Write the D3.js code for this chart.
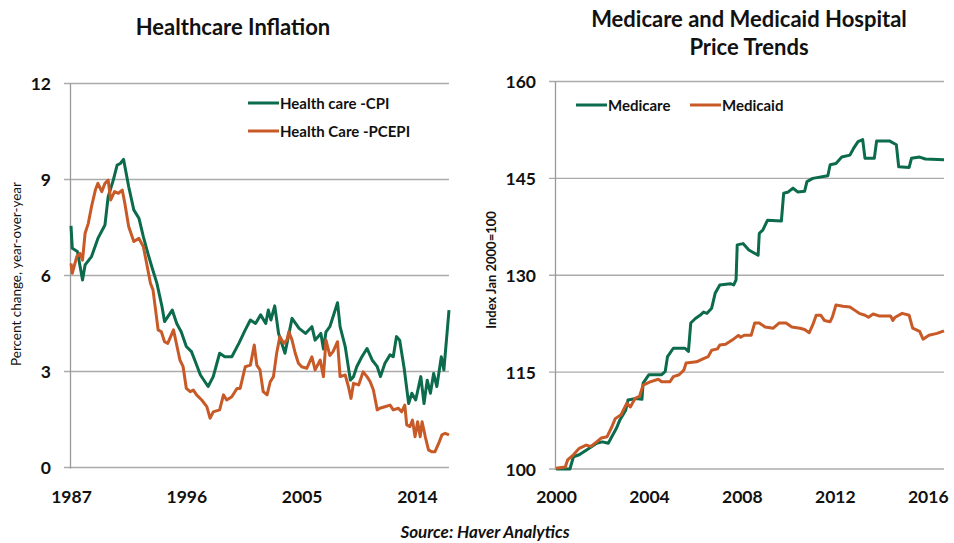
<!DOCTYPE html>
<html>
<head>
<meta charset="utf-8">
<script src="https://cdn.jsdelivr.net/npm/d3@7"></script>
<style>
  body { margin: 0; background: #fff; }
  svg { display: block; font-family: Lato, "Open Sans", sans-serif; }
</style>
</head>
<body>
<svg id="chart" width="954" height="543"></svg>
<script>
// ---- left panel data: healthcare inflation, % y/y ----
var cpiYears = [1987.0, 1987.1, 1987.5, 1987.9, 1988.1, 1988.6, 1989.1, 1989.65, 1989.9, 1990.3, 1990.6, 1990.85, 1991.1, 1991.5, 1991.9, 1992.3, 1992.65, 1993.0, 1993.3, 1993.7, 1994.1, 1994.3, 1994.9, 1995.25, 1995.6, 1996.0, 1996.4, 1996.7, 1997.1, 1997.7, 1998.1, 1998.6, 1999.0, 1999.55, 2000.1, 2000.6, 2001.0, 2001.4, 2001.8, 2002.2, 2002.4, 2002.6, 2002.9, 2003.2, 2003.7, 2004.25, 2004.8, 2005.3, 2005.8, 2006.05, 2006.5, 2006.7, 2006.9, 2007.2, 2007.45, 2007.8, 2008.0, 2008.4, 2008.8, 2009.05, 2009.3, 2009.7, 2010.1, 2010.5, 2010.9, 2011.15, 2011.5, 2011.9, 2012.15, 2012.4, 2012.65, 2013.0, 2013.35, 2013.6, 2013.9, 2014.3, 2014.55, 2014.8, 2015.05, 2015.3, 2015.55, 2015.9, 2016.1, 2016.3, 2016.5];
var cpiValues = [7.55, 6.85, 6.75, 5.86, 6.33, 6.59, 7.16, 7.58, 8.46, 8.98, 9.45, 9.5, 9.63, 8.78, 8.05, 7.79, 7.21, 6.69, 6.28, 5.76, 5.03, 4.56, 4.92, 4.5, 4.24, 3.78, 3.62, 3.31, 2.89, 2.53, 2.84, 3.57, 3.46, 3.46, 3.88, 4.3, 4.61, 4.5, 4.77, 4.5, 4.92, 4.61, 5.05, 4.19, 3.57, 4.66, 4.35, 4.19, 4.4, 3.98, 4.19, 3.7, 4.24, 4.4, 4.71, 5.15, 4.4, 3.78, 2.73, 2.84, 3.15, 3.46, 3.72, 3.36, 3.15, 2.84, 3.26, 3.52, 3.46, 4.09, 3.98, 3.1, 2.0, 2.32, 2.11, 2.84, 2.0, 2.73, 2.32, 2.94, 2.53, 3.46, 3.05, 3.98, 4.92];

var pceYears = [1987.0, 1987.1, 1987.45, 1987.7, 1987.9, 1988.1, 1988.35, 1988.6, 1988.9, 1989.1, 1989.4, 1989.65, 1989.9, 1990.1, 1990.4, 1990.7, 1991.0, 1991.2, 1991.5, 1991.9, 1992.3, 1992.65, 1992.9, 1993.2, 1993.4, 1993.8, 1994.05, 1994.3, 1994.55, 1995.0, 1995.25, 1995.5, 1995.75, 1996.0, 1996.3, 1996.55, 1996.8, 1997.2, 1997.6, 1997.85, 1998.1, 1998.6, 1998.9, 1999.15, 1999.55, 1999.95, 2000.2, 2000.6, 2001.0, 2001.3, 2001.5, 2001.75, 2002.0, 2002.3, 2002.55, 2002.8, 2003.05, 2003.3, 2003.6, 2003.85, 2004.0, 2004.25, 2004.5, 2004.75, 2005.0, 2005.4, 2005.8, 2006.05, 2006.45, 2006.7, 2006.9, 2007.2, 2007.45, 2007.8, 2008.0, 2008.4, 2008.65, 2008.85, 2009.05, 2009.45, 2009.8, 2010.1, 2010.35, 2010.6, 2010.9, 2011.1, 2011.5, 2011.9, 2012.15, 2012.55, 2012.8, 2013.05, 2013.2, 2013.45, 2013.65, 2013.85, 2014.05, 2014.25, 2014.4, 2014.65, 2014.9, 2015.15, 2015.4, 2015.7, 2015.95, 2016.2, 2016.5];
var pceValues = [6.38, 6.07, 6.59, 6.69, 6.48, 7.32, 7.63, 8.15, 8.67, 8.88, 8.62, 8.88, 8.98, 8.36, 8.62, 8.57, 8.67, 8.26, 7.53, 7.06, 7.16, 6.9, 6.38, 5.76, 5.55, 4.3, 4.24, 3.93, 3.88, 4.3, 3.83, 3.36, 3.15, 2.47, 2.37, 2.42, 2.27, 2.11, 1.9, 1.54, 1.74, 1.8, 2.27, 2.11, 2.21, 2.47, 2.47, 3.15, 3.2, 3.83, 3.2, 3.05, 2.37, 2.27, 2.68, 2.84, 3.57, 4.09, 3.88, 3.98, 4.24, 3.98, 3.57, 3.26, 3.15, 3.1, 3.46, 3.05, 3.36, 2.84, 3.98, 3.5, 3.62, 3.93, 2.84, 2.89, 2.53, 2.16, 2.63, 2.58, 2.99, 2.84, 2.68, 2.42, 1.8, 1.85, 1.9, 1.95, 1.8, 1.85, 1.74, 1.95, 1.33, 1.28, 1.48, 0.96, 1.43, 0.96, 1.43, 0.96, 0.55, 0.49, 0.49, 0.76, 1.02, 1.07, 1.02];

var leftYTicks = [0, 3, 6, 9, 12];
var leftXTicks = [1987, 1996, 2005, 2014];
var leftSeriesNames = ["Health care -CPI", "Health Care -PCEPI"];

// ---- right panel data: hospital price index, Jan 2000 = 100 ----
var medicareYears = [2000.0, 2000.6, 2000.75, 2001.0, 2001.3, 2001.75, 2002.0, 2002.25, 2002.4, 2002.6, 2002.75, 2003.0, 2003.1, 2003.45, 2003.7, 2003.75, 2004.0, 2004.55, 2004.7, 2004.8, 2005.05, 2005.55, 2005.7, 2005.8, 2006.0, 2006.2, 2006.35, 2006.5, 2006.7, 2006.85, 2007.05, 2007.5, 2007.65, 2007.75, 2007.8, 2008.05, 2008.3, 2008.7, 2008.75, 2008.9, 2009.1, 2009.7, 2009.8, 2010.0, 2010.2, 2010.4, 2010.7, 2010.8, 2011.05, 2011.7, 2011.8, 2012.05, 2012.3, 2012.65, 2012.8, 2013.0, 2013.2, 2013.3, 2013.7, 2013.8, 2014.35, 2014.65, 2014.75, 2015.2, 2015.3, 2015.65, 2015.9, 2016.7];
var medicareValues = [100, 100, 101.9, 102.2, 102.9, 104.0, 104.2, 104.0, 105.0, 106.3, 107.6, 109.1, 110.7, 110.9, 110.8, 113.3, 114.6, 114.6, 115.1, 117.4, 118.7, 118.7, 118.2, 122.6, 123.3, 123.8, 124.3, 124.1, 124.9, 127.2, 128.5, 128.7, 128.5, 129.3, 134.7, 134.9, 133.9, 133.1, 136.5, 137.0, 138.5, 138.4, 142.7, 142.9, 143.5, 142.9, 143.0, 144.5, 145.0, 145.4, 147.1, 147.3, 148.3, 148.6, 149.6, 150.7, 151.0, 148.1, 148.1, 150.8, 150.8, 150.2, 146.8, 146.7, 148.1, 148.3, 148.0, 147.9];

var medicaidYears = [2000.0, 2000.4, 2000.5, 2000.75, 2001.0, 2001.3, 2001.5, 2001.75, 2001.95, 2002.2, 2002.4, 2002.55, 2002.8, 2003.05, 2003.2, 2003.4, 2003.6, 2003.75, 2004.05, 2004.4, 2004.55, 2004.9, 2005.05, 2005.3, 2005.5, 2005.6, 2006.05, 2006.35, 2006.55, 2006.7, 2006.95, 2007.05, 2007.3, 2007.6, 2007.85, 2007.95, 2008.1, 2008.4, 2008.55, 2008.75, 2009.0, 2009.35, 2009.6, 2009.9, 2010.15, 2010.5, 2010.7, 2010.9, 2011.05, 2011.2, 2011.4, 2011.55, 2011.8, 2011.9, 2012.05, 2012.35, 2012.65, 2012.85, 2013.05, 2013.3, 2013.45, 2013.65, 2013.9, 2014.4, 2014.5, 2014.6, 2014.9, 2015.2, 2015.35, 2015.65, 2015.8, 2016.05, 2016.4, 2016.7];
var medicaidValues = [100.1, 100.3, 101.4, 102.2, 103.2, 103.7, 103.5, 104.2, 104.8, 105.0, 106.5, 107.8, 108.4, 110.2, 109.6, 110.9, 111.3, 113.0, 113.5, 113.9, 113.5, 113.5, 114.3, 114.6, 115.3, 116.4, 116.6, 117.1, 117.4, 118.4, 118.6, 119.2, 119.3, 120.0, 120.7, 120.4, 120.7, 120.7, 122.6, 122.6, 122.0, 121.8, 122.6, 122.6, 122.0, 121.8, 121.6, 121.1, 122.3, 123.8, 123.8, 123.0, 122.8, 123.6, 125.4, 125.2, 125.1, 124.6, 124.1, 123.8, 123.5, 124.0, 123.7, 123.7, 123.0, 123.5, 124.1, 123.8, 121.8, 121.3, 120.1, 120.7, 121.0, 121.4];

var rightYTicks = [100, 115, 130, 145, 160];
var rightXTicks = [2000, 2004, 2008, 2012, 2016];
var rightSeriesNames = ["Medicare", "Medicaid"];

var green = "#0b6b4c";
var orange = "#c85a27";
var gridColor = "#ababab";

var svg = d3.select("#chart");

function drawPanel(opts) {
  var g = svg.append("g");
  var x = d3.scaleLinear().domain(opts.xDomain).range(opts.xRange);
  var y = d3.scaleLinear().domain(opts.yDomain).range(opts.yRange);

  // horizontal gridlines (they poke out left of the axis as ticks)
  g.selectAll("line.grid")
    .data(opts.yTicks)
    .enter().append("line")
      .attr("class", "grid")
      .attr("x1", opts.xRange[0] - 7)
      .attr("x2", opts.gridEnd)
      .attr("y1", function(d) { return y(d); })
      .attr("y2", function(d) { return y(d); })
      .style("stroke", gridColor)
      .style("stroke-width", 1.3);

  // y axis line
  g.append("line")
    .attr("x1", opts.xRange[0] - 0.5).attr("x2", opts.xRange[0] - 0.5)
    .attr("y1", y(opts.yDomain[1])).attr("y2", y(opts.yDomain[0]) + 1)
    .style("stroke", "#999")
    .style("stroke-width", 1.3);

  // y tick labels
  var leftAxis = d3.axisLeft(y).tickValues(opts.yTicks).tickSize(0).tickPadding(0);
  var ya = g.append("g")
    .attr("transform", "translate(" + opts.yLabelX + ",0)")
    .call(leftAxis);
  ya.select(".domain").remove();
  ya.selectAll("text")
    .attr("dy", "0.36em")
    .style("font-family", "Lato, sans-serif")
    .style("font-size", "17.5px")
    .style("font-weight", "bold")
    .style("fill", "#111");

  // x tick labels
  var bottomAxis = d3.axisBottom(x).tickValues(opts.xTicks).tickFormat(d3.format("d")).tickSize(0).tickPadding(0);
  var xa = g.append("g")
    .attr("transform", "translate(0," + opts.xLabelY + ")")
    .call(bottomAxis);
  xa.select(".domain").remove();
  xa.selectAll("text")
    .attr("dy", "0")
    .style("font-family", "Lato, sans-serif")
    .style("font-size", "17.5px")
    .style("font-weight", "bold")
    .style("fill", "#111");

  // series lines
  var line = d3.line()
    .x(function(d) { return x(d[0]); })
    .y(function(d) { return y(d[1]); });

  opts.series.forEach(function(s) {
    var pts = d3.zip(s.years, s.values);
    g.append("path")
      .datum(pts)
      .attr("d", line)
      .style("fill", "none")
      .style("stroke", s.color)
      .style("stroke-width", 3)
      .style("stroke-linejoin", "round");
  });

  // legend
  opts.legend.forEach(function(l) {
    g.append("line")
      .attr("x1", l.x).attr("x2", l.x + 31)
      .attr("y1", l.y).attr("y2", l.y)
      .style("stroke", l.color)
      .style("stroke-width", 3);
    g.append("text")
      .attr("x", l.x + 32)
      .attr("y", l.y + 5.5)
      .style("font-size", "15px")
      .style("font-weight", "bold")
      .style("fill", "#111")
      .text(l.name);
  });

  // titles
  opts.title.forEach(function(t, i) {
    g.append("text")
      .attr("x", opts.titleX)
      .attr("y", opts.titleY + i * 28)
      .attr("text-anchor", "middle")
      .style("font-size", "22px")
      .style("font-weight", "bold")
      .style("fill", "#111")
      .text(t);
  });

  g.append("text")
    .attr("transform", "translate(" + opts.yTitleX + "," + opts.yTitleY + ") rotate(-90)")
    .attr("text-anchor", "middle")
    .style("font-size", opts.yTitleSize)
    .style("font-weight", opts.yTitleWeight)
    .style("fill", "#111")
    .text(opts.yTitle);
}

drawPanel({
  xDomain: [1987, 2016.5], xRange: [71, 449],
  yDomain: [0, 12], yRange: [467.5, 83.5],
  yTicks: leftYTicks, xTicks: leftXTicks,
  gridEnd: 449, yLabelX: 51, xLabelY: 503,
  series: [
    { years: cpiYears, values: cpiValues, color: green },
    { years: pceYears, values: pceValues, color: orange }
  ],
  legend: [
    { x: 248, y: 103, color: green, name: leftSeriesNames[0] },
    { x: 248, y: 131, color: orange, name: leftSeriesNames[1] }
  ],
  title: ["Healthcare Inflation"], titleX: 233, titleY: 35,
  yTitle: "Percent change, year-over-year", yTitleX: 21, yTitleY: 274,
  yTitleSize: "13.5px", yTitleWeight: "normal"
});

drawPanel({
  xDomain: [2000, 2016.7], xRange: [556, 944],
  yDomain: [100, 160], yRange: [469, 81.5],
  yTicks: rightYTicks, xTicks: rightXTicks,
  gridEnd: 944, yLabelX: 536, xLabelY: 503,
  series: [
    { years: medicareYears, values: medicareValues, color: green },
    { years: medicaidYears, values: medicaidValues, color: orange }
  ],
  legend: [
    { x: 576, y: 105, color: green, name: rightSeriesNames[0] },
    { x: 690, y: 105, color: orange, name: rightSeriesNames[1] }
  ],
  title: ["Medicare and Medicaid Hospital", "Price Trends"], titleX: 749, titleY: 27,
  yTitle: "Index Jan 2000=100", yTitleX: 496, yTitleY: 270,
  yTitleSize: "13px", yTitleWeight: "bold"
});

// source note
svg.append("text")
  .attr("x", 485)
  .attr("y", 538)
  .attr("text-anchor", "middle")
  .style("font-size", "17px")
  .style("font-weight", "bold")
  .style("font-style", "italic")
  .style("fill", "#111")
  .text("Source: Haver Analytics");
</script>
</body>
</html>
